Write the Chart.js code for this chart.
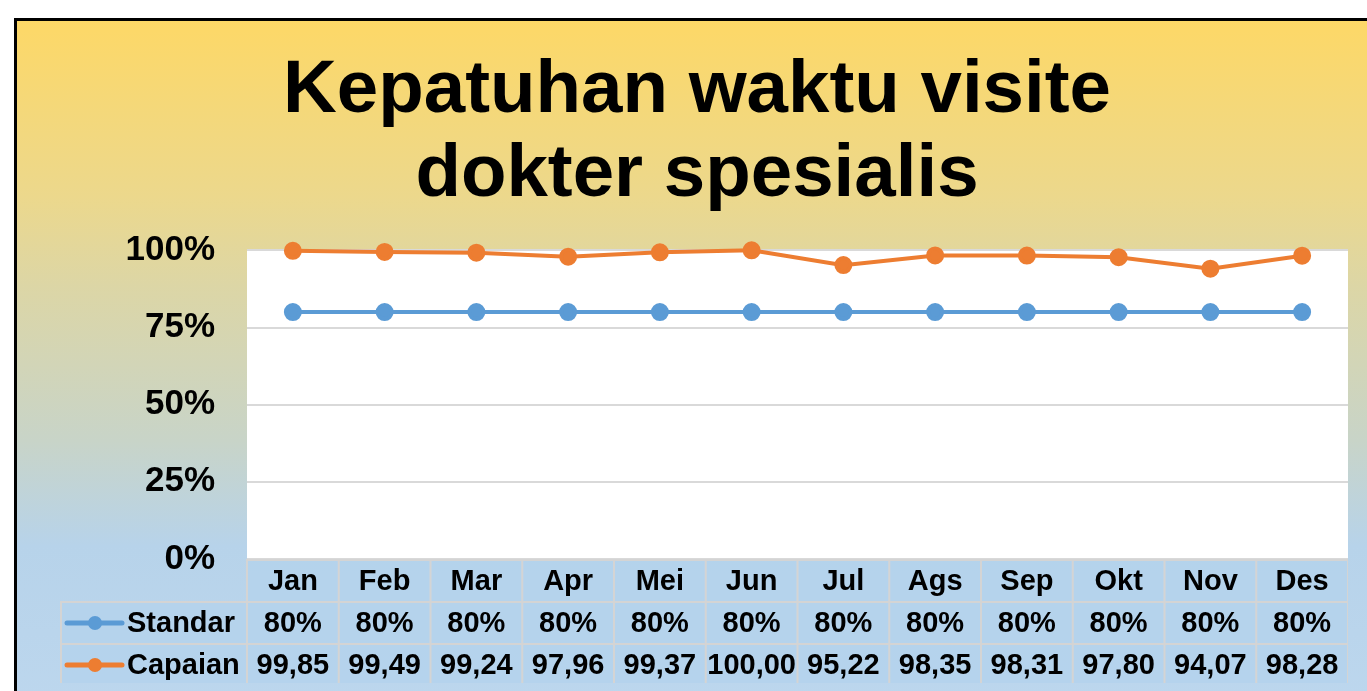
<!DOCTYPE html>
<html>
<head>
<meta charset="utf-8">
<script src="https://cdn.jsdelivr.net/npm/chart.js@4.4.1/dist/chart.umd.min.js"></script>
<style>
  html, body { margin: 0; padding: 0; background: #fff; overflow: hidden; }
  #frame {
    position: absolute; left: 14px; top: 18px;
    width: 1362px; height: 700px;
    border: 3px solid #000;
    background: linear-gradient(to bottom, #fdd867 0%, #ecd88c 25%, #dcd6a6 38%, #c8d4c8 60%, #b7d3ea 75%, #bdd7ee 100%);
  }
  #wrap { position: absolute; left: 0; top: 0; width: 1331px; height: 662px; }
</style>
</head>
<body>
<div id="frame"><div id="wrap"><canvas id="c"></canvas></div></div>
<script>
const months = ['Jan', 'Feb', 'Mar', 'Apr', 'Mei', 'Jun', 'Jul', 'Ags', 'Sep', 'Okt', 'Nov', 'Des'];
const standar = [80, 80, 80, 80, 80, 80, 80, 80, 80, 80, 80, 80];
const capaian = [99.85, 99.49, 99.24, 97.96, 99.37, 100.00, 95.22, 98.35, 98.31, 97.80, 94.07, 98.28];
const yTicks = [0, 25, 50, 75, 100];
const titleLines = ['Kepatuhan waktu visite', 'dokter spesialis'];

const FONT = "'Liberation Sans', Arial, sans-serif";
const BLUE = '#5b9bd5';
const ORANGE = '#ed7d31';

// white plot background
const plotBg = {
  id: 'plotBg',
  beforeDraw(chart) {
    const { ctx, chartArea: a } = chart;
    ctx.save();
    ctx.fillStyle = '#fff';
    ctx.fillRect(a.left, a.top, a.right - a.left, a.bottom - a.top);
    ctx.restore();
  }
};

// data table under the plot
const dataTable = {
  id: 'dataTable',
  afterDraw(chart) {
    const { ctx, chartArea: a } = chart;
    const x = chart.scales.x;
    const colW = (a.right - a.left) / months.length;
    const rowH = 42;
    const top = a.bottom + 1;
    const legLeft = 44;
    const rows = [
      { label: null, cells: months },
      { label: 'Standar', color: BLUE, cells: standar.map(v => v + '%') },
      { label: 'Capaian', color: ORANGE, cells: capaian.map(v => v.toFixed(2).replace('.', ',')) },
    ];
    ctx.save();
    ctx.font = 'bold 29px ' + FONT;
    ctx.textBaseline = 'middle';
    rows.forEach((r, ri) => {
      const y0 = top + ri * rowH;
      const left = r.label ? legLeft : a.left;
      ctx.fillStyle = 'rgba(180,210,236,0.85)';
      ctx.fillRect(left, y0, a.right - left, rowH);
      ctx.strokeStyle = '#d4d4d4';
      ctx.lineWidth = 2;
      ctx.strokeRect(left, y0, a.right - left, rowH);
      for (let i = 0; i <= months.length; i++) {
        const cx = a.left + i * colW;
        ctx.beginPath();
        ctx.moveTo(cx, y0);
        ctx.lineTo(cx, y0 + rowH);
        ctx.stroke();
      }
      const cy = y0 + rowH / 2 + 1;
      ctx.fillStyle = '#000';
      ctx.textAlign = 'center';
      r.cells.forEach((t, i) => {
        ctx.fillText(t, x.getPixelForValue(i), cy);
      });
      if (r.label) {
        ctx.strokeStyle = r.color;
        ctx.lineWidth = 5;
        ctx.lineCap = 'round';
        ctx.beginPath();
        ctx.moveTo(legLeft + 6, cy - 1);
        ctx.lineTo(legLeft + 61, cy - 1);
        ctx.stroke();
        ctx.fillStyle = r.color;
        ctx.beginPath();
        ctx.arc(legLeft + 34, cy - 1, 7, 0, Math.PI * 2);
        ctx.fill();
        ctx.fillStyle = '#000';
        ctx.textAlign = 'left';
        ctx.fillText(r.label, legLeft + 66, cy);
      }
    });
    ctx.restore();
  }
};

new Chart(document.getElementById('c'), {
  type: 'line',
  data: {
    labels: months,
    datasets: [
      {
        label: 'Standar',
        data: standar,
        borderColor: BLUE,
        backgroundColor: BLUE,
        borderWidth: 4,
        pointRadius: 7,
        pointHoverRadius: 7,
        tension: 0,
        clip: false,
      },
      {
        label: 'Capaian',
        data: capaian,
        borderColor: ORANGE,
        backgroundColor: ORANGE,
        borderWidth: 4,
        pointRadius: 7,
        pointHoverRadius: 7,
        tension: 0,
        clip: false,
      }
    ]
  },
  options: {
    animation: false,
    responsive: true,
    maintainAspectRatio: false,
    layout: { autoPadding: false, padding: { left: 29, right: 0, top: 0, bottom: 116 } },
    scales: {
      x: {
        offset: true,
        grid: { display: false },
        border: { display: false },
        ticks: { display: false },
      },
      y: {
        min: 0,
        max: 100,
        afterBuildTicks(scale) { scale.ticks = yTicks.map(v => ({ value: v })); },
        afterFit(scale) { scale.width = 201; },
        grid: { color: '#d9d9d9', lineWidth: 2, drawTicks: false },
        border: { display: false },
        ticks: {
          padding: 32,
          color: '#000',
          font: { family: FONT, size: 35, weight: 'bold' },
          callback: v => v + '%',
        }
      }
    },
    plugins: {
      legend: { display: false },
      tooltip: { enabled: false },
      title: {
        display: true,
        text: titleLines,
        color: '#000',
        font: { family: FONT, size: 74.5, weight: 'bold', lineHeight: 1.13 },
        padding: { top: 28, bottom: 33 },
      }
    }
  },
  plugins: [plotBg, dataTable]
});
</script>
</body>
</html>
